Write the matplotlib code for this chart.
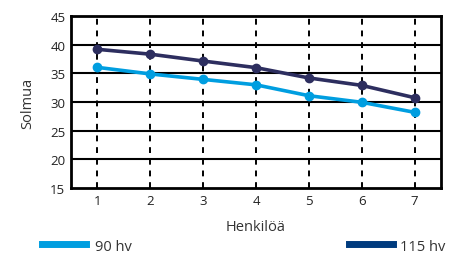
import matplotlib
matplotlib.use("Agg")
import matplotlib.pyplot as plt
from matplotlib.lines import Line2D

plt.rcParams['font.family'] = ['Open Sans', 'DejaVu Sans']

persons = [1, 2, 3, 4, 5, 6, 7]
hv90 = [36.05, 34.9, 33.95, 33.0, 31.1, 29.95, 28.2]
hv115 = [39.2, 38.35, 37.15, 36.0, 34.2, 32.9, 30.75]
yticks = [15, 20, 25, 30, 35, 40, 45]
labels = ["90 hv", "115 hv"]

c90 = "#009ee0"
c115 = "#2d2e5f"
c115_leg = "#003b7e"
tcol = "#333333"

fig = plt.figure(figsize=(4.52, 2.55), dpi=100)
ax = fig.add_axes([0.157, 0.259, 0.819, 0.674])

for y in yticks[1:-1]:
    ax.axhline(y, color="black", lw=1.5, zorder=1)
for x in persons:
    ax.axvline(x, color="black", lw=1.4, ls=(0, (3, 3)), zorder=1)

ax.plot(persons, hv90, color=c90, lw=2.6, marker="o", ms=6, zorder=3)
ax.plot(persons, hv115, color=c115, lw=2.6, marker="o", ms=6, zorder=3)

ax.set_xlim(0.5, 7.5)
ax.set_ylim(15, 45)
ax.set_xticks(persons)
ax.set_yticks(yticks)
ax.tick_params(length=0, labelsize=9.5, pad=4, labelcolor="#222222")
for s in ax.spines.values():
    s.set_linewidth(2)
    s.set_color("black")
ax.set_xlabel("Henkilöä", fontsize=10.5, color=tcol, labelpad=9)
ax.set_ylabel("Solmua", fontsize=10.5, color=tcol, labelpad=11)

h1 = [Line2D([], [], color=c90, lw=5)]
h2 = [Line2D([], [], color=c115_leg, lw=5)]
leg1 = fig.legend(h1, [labels[0]], loc="center left", bbox_to_anchor=(0.093, 0.031),
                  frameon=False, fontsize=10.5, handlelength=3.0, handletextpad=0.6,
                  borderaxespad=0, borderpad=0)
leg2 = fig.legend(h2, [labels[1]], loc="center left", bbox_to_anchor=(0.772, 0.031),
                  frameon=False, fontsize=10.5, handlelength=3.0, handletextpad=0.5,
                  borderaxespad=0, borderpad=0)
for leg in (leg1, leg2):
    for t in leg.get_texts():
        t.set_color(tcol)

fig.savefig("out.png", dpi=100)
